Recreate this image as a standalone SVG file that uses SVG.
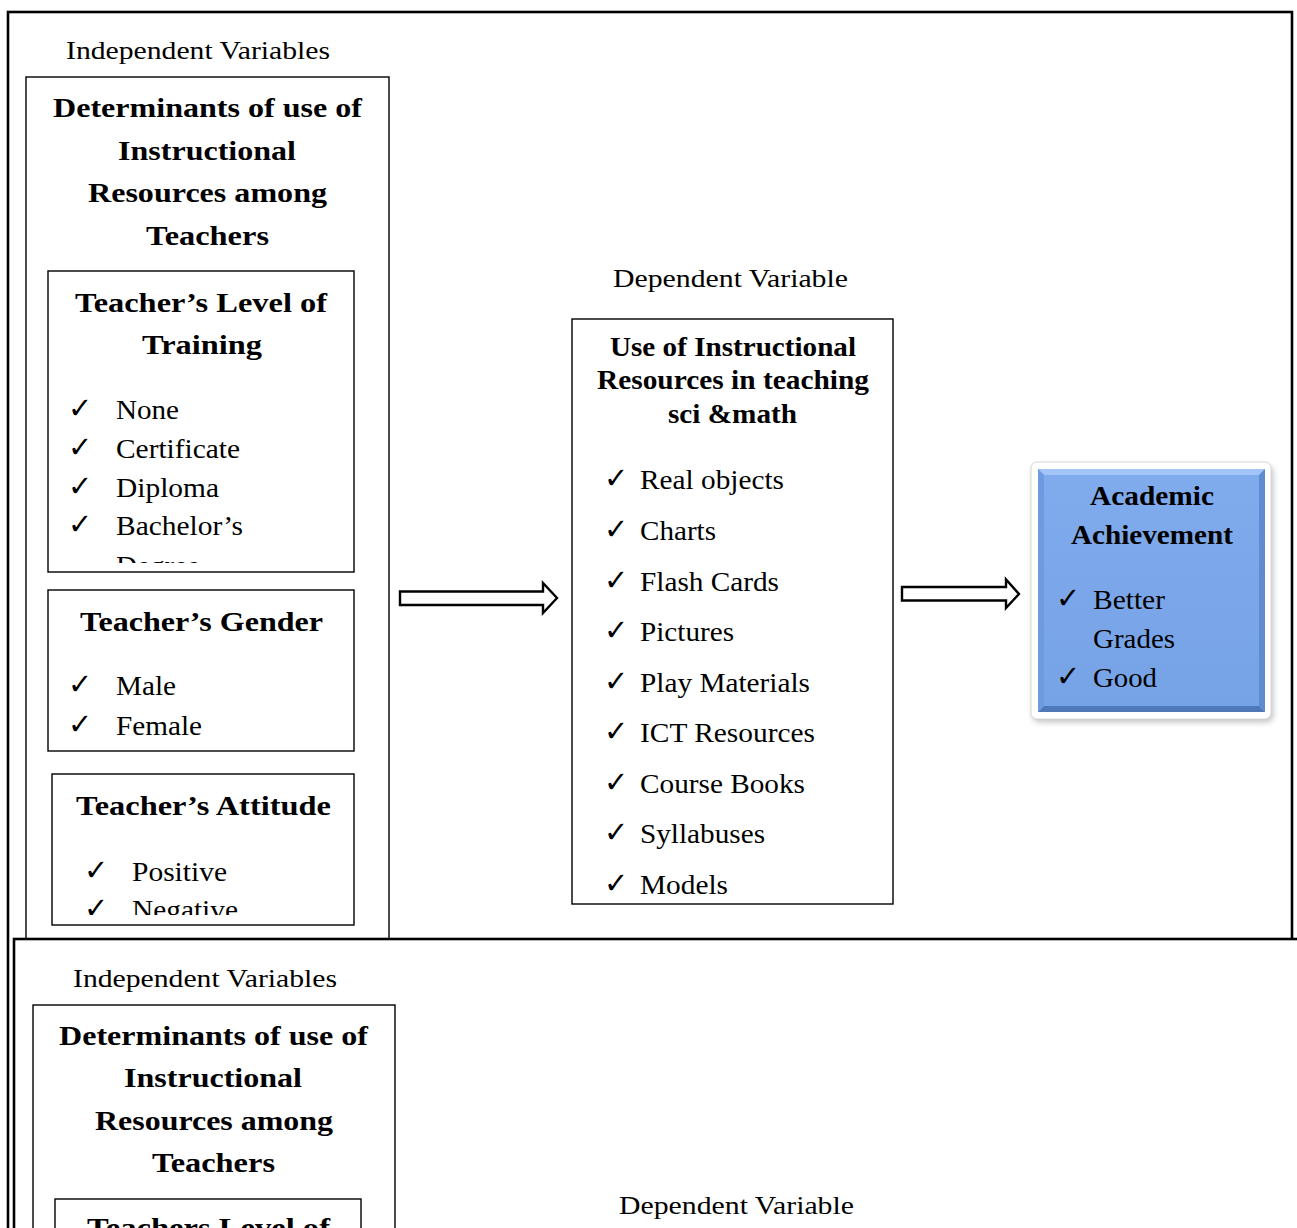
<svg xmlns="http://www.w3.org/2000/svg" width="1297" height="1228" viewBox="0 0 1297 1228">
<style>
text{font-family:"Liberation Serif","Times New Roman",serif;fill:#000}
.lbl{font-size:25px}
.ttl{font-size:27px;font-weight:bold}
.it{font-size:28px}
.ck{font-family:"DejaVu Sans",sans-serif;font-size:29px}
.frame{fill:#fff;stroke:#000;stroke-width:2.6}
.box{fill:#fff;stroke:#000;stroke-width:1.4}
.arrow{fill:#fff;stroke:#000;stroke-width:2.4;stroke-linejoin:miter}
</style>
<defs>
<clipPath id="clipTrain"><rect x="48" y="271" width="306" height="292"/></clipPath>
<clipPath id="clipAtt"><rect x="52" y="774" width="302" height="141"/></clipPath>
<filter id="shadow" x="-10%" y="-10%" width="130%" height="130%"><feGaussianBlur stdDeviation="3"/></filter>
<linearGradient id="blueG" x1="0" y1="0" x2="0" y2="1">
<stop offset="0" stop-color="#80acee"/><stop offset="1" stop-color="#76a2e6"/>
</linearGradient>
</defs>
<rect width="1297" height="1228" fill="#fff"/>

<g id="frame-top">
<rect class="frame" x="8" y="12" width="1284" height="1240"/>
</g>

<g id="independent-top">
<text class="lbl" x="66" y="59" textLength="264" lengthAdjust="spacingAndGlyphs">Independent Variables</text>
<rect class="box" x="26" y="77" width="363" height="880"/>
<text class="ttl" x="53" y="117" textLength="309" lengthAdjust="spacingAndGlyphs">Determinants of use of</text>
<text class="ttl" x="118" y="160" textLength="178" lengthAdjust="spacingAndGlyphs">Instructional</text>
<text class="ttl" x="88" y="202" textLength="239" lengthAdjust="spacingAndGlyphs">Resources among</text>
<text class="ttl" x="146" y="245" textLength="123" lengthAdjust="spacingAndGlyphs">Teachers</text>
</g>

<g id="training">
<rect class="box" x="48" y="271" width="306" height="301"/>
<text class="ttl" x="75" y="312" textLength="252" lengthAdjust="spacingAndGlyphs">Teacher’s Level of</text>
<text class="ttl" x="142" y="354" textLength="120" lengthAdjust="spacingAndGlyphs">Training</text>
<g clip-path="url(#clipTrain)">
<text class="ck" x="68" y="418">✓</text><text class="it" x="116" y="419" textLength="63" lengthAdjust="spacingAndGlyphs">None</text>
<text class="ck" x="68" y="457">✓</text><text class="it" x="116" y="458" textLength="124" lengthAdjust="spacingAndGlyphs">Certificate</text>
<text class="ck" x="68" y="496">✓</text><text class="it" x="116" y="497" textLength="103" lengthAdjust="spacingAndGlyphs">Diploma</text>
<text class="ck" x="68" y="534">✓</text><text class="it" x="116" y="535" textLength="127" lengthAdjust="spacingAndGlyphs">Bachelor’s</text>
<text class="it" x="116" y="575" textLength="84" lengthAdjust="spacingAndGlyphs">Degree</text>
</g>
</g>

<g id="gender">
<rect class="box" x="48" y="590" width="306" height="161"/>
<text class="ttl" x="80" y="631" textLength="243" lengthAdjust="spacingAndGlyphs">Teacher’s Gender</text>
<text class="ck" x="68" y="694">✓</text><text class="it" x="116" y="695" textLength="60" lengthAdjust="spacingAndGlyphs">Male</text>
<text class="ck" x="68" y="734">✓</text><text class="it" x="116" y="735" textLength="86" lengthAdjust="spacingAndGlyphs">Female</text>
</g>

<g id="attitude">
<rect class="box" x="52" y="774" width="302" height="151"/>
<text class="ttl" x="76" y="815" textLength="255" lengthAdjust="spacingAndGlyphs">Teacher’s Attitude</text>
<g clip-path="url(#clipAtt)">
<text class="ck" x="84" y="880">✓</text><text class="it" x="132" y="881" textLength="95" lengthAdjust="spacingAndGlyphs">Positive</text>
<text class="ck" x="84" y="918">✓</text><text class="it" x="132" y="919" textLength="106" lengthAdjust="spacingAndGlyphs">Negative</text>
</g>
</g>

<g id="dependent">
<text class="lbl" x="613" y="287" textLength="235" lengthAdjust="spacingAndGlyphs">Dependent Variable</text>
<rect class="box" x="572" y="319" width="321" height="585"/>
<text class="ttl" x="610" y="356" textLength="246" lengthAdjust="spacingAndGlyphs">Use of Instructional</text>
<text class="ttl" x="597" y="389" textLength="272" lengthAdjust="spacingAndGlyphs">Resources in teaching</text>
<text class="ttl" x="668" y="423" textLength="129" lengthAdjust="spacingAndGlyphs">sci &amp;math</text>
<text class="ck" x="604" y="488">✓</text><text class="it" x="640" y="489" textLength="144" lengthAdjust="spacingAndGlyphs">Real objects</text>
<text class="ck" x="604" y="539">✓</text><text class="it" x="640" y="540" textLength="76" lengthAdjust="spacingAndGlyphs">Charts</text>
<text class="ck" x="604" y="590">✓</text><text class="it" x="640" y="591" textLength="139" lengthAdjust="spacingAndGlyphs">Flash Cards</text>
<text class="ck" x="604" y="640">✓</text><text class="it" x="640" y="641" textLength="94" lengthAdjust="spacingAndGlyphs">Pictures</text>
<text class="ck" x="604" y="691">✓</text><text class="it" x="640" y="692" textLength="170" lengthAdjust="spacingAndGlyphs">Play Materials</text>
<text class="ck" x="604" y="741">✓</text><text class="it" x="640" y="742" textLength="175" lengthAdjust="spacingAndGlyphs">ICT Resources</text>
<text class="ck" x="604" y="792">✓</text><text class="it" x="640" y="793" textLength="165" lengthAdjust="spacingAndGlyphs">Course Books</text>
<text class="ck" x="604" y="842">✓</text><text class="it" x="640" y="843" textLength="125" lengthAdjust="spacingAndGlyphs">Syllabuses</text>
<text class="ck" x="604" y="893">✓</text><text class="it" x="640" y="894" textLength="88" lengthAdjust="spacingAndGlyphs">Models</text>
</g>

<g id="achievement">
<rect x="1033" y="466" width="240" height="256" rx="6" fill="#000" opacity="0.25" filter="url(#shadow)"/>
<rect x="1031" y="462" width="240" height="257" rx="6" fill="#fff" stroke="#d8d8d8" stroke-width="1"/>
<rect x="1038" y="469" width="227" height="243" fill="url(#blueG)"/>
<polygon points="1038,469 1265,469 1259,475 1044,475" fill="#a2c4f8"/>
<polygon points="1038,712 1265,712 1259,706 1044,706" fill="#4f78b8"/>
<polygon points="1038,469 1044,475 1044,706 1038,712" fill="#6e9ae0"/>
<polygon points="1265,469 1259,475 1259,706 1265,712" fill="#5f8bd0"/>
<text class="ttl" x="1090" y="505" textLength="124" lengthAdjust="spacingAndGlyphs">Academic</text>
<text class="ttl" x="1071" y="544" textLength="162" lengthAdjust="spacingAndGlyphs">Achievement</text>
<text class="ck" x="1056" y="608">✓</text><text class="it" x="1093" y="609" textLength="72" lengthAdjust="spacingAndGlyphs">Better</text>
<text class="it" x="1093" y="648" textLength="82" lengthAdjust="spacingAndGlyphs">Grades</text>
<text class="ck" x="1056" y="686">✓</text><text class="it" x="1093" y="687" textLength="64" lengthAdjust="spacingAndGlyphs">Good</text>
</g>

<g id="connectors">
<polygon class="arrow" points="400,591.5 543,591.5 543,583 557,598 543,613 543,605 400,605"/>
<polygon class="arrow" points="902,587 1006,587 1006,579.5 1019,594 1006,608 1006,600.5 902,600.5"/>
</g>

<g id="frame-bottom">
<rect class="frame" x="14" y="939" width="1300" height="400"/>
</g>

<g id="independent-bottom">
<text class="lbl" x="73" y="987" textLength="264" lengthAdjust="spacingAndGlyphs">Independent Variables</text>
<rect class="box" x="33" y="1005" width="362" height="300"/>
<text class="ttl" x="59" y="1045" textLength="309" lengthAdjust="spacingAndGlyphs">Determinants of use of</text>
<text class="ttl" x="124" y="1087" textLength="178" lengthAdjust="spacingAndGlyphs">Instructional</text>
<text class="ttl" x="95" y="1130" textLength="238" lengthAdjust="spacingAndGlyphs">Resources among</text>
<text class="ttl" x="152" y="1172" textLength="123" lengthAdjust="spacingAndGlyphs">Teachers</text>
<rect class="box" x="55" y="1199" width="306" height="200"/>
<text class="ttl" x="87" y="1237" textLength="243" lengthAdjust="spacingAndGlyphs">Teachers Level of</text>
</g>

<g id="dependent-bottom">
<text class="lbl" x="619" y="1214" textLength="235" lengthAdjust="spacingAndGlyphs">Dependent Variable</text>
</g>
</svg>
